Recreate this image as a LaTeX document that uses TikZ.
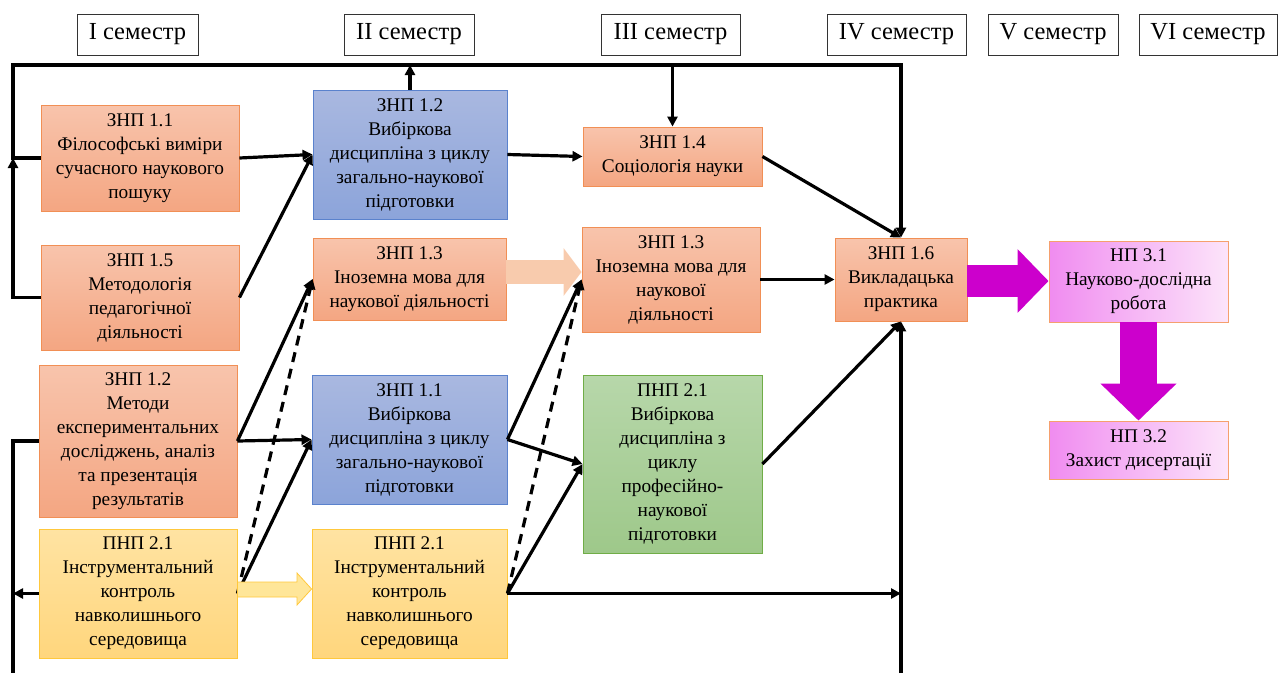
\documentclass[tikz,border=0pt]{standalone}
\usepackage{fontspec}
\setmainfont{Liberation Serif}
\usetikzlibrary{arrows.meta,calc}
\definecolor{orTop}{RGB}{248,196,172}
\definecolor{orBot}{RGB}{244,166,130}
\definecolor{orLine}{RGB}{241,143,85}
\definecolor{blTop}{RGB}{169,184,224}
\definecolor{blBot}{RGB}{140,164,218}
\definecolor{blLine}{RGB}{90,130,205}
\definecolor{grTop}{RGB}{183,215,170}
\definecolor{grBot}{RGB}{158,200,138}
\definecolor{grLine}{RGB}{112,173,71}
\definecolor{yeTop}{RGB}{255,227,162}
\definecolor{yeBot}{RGB}{255,214,125}
\definecolor{yeLine}{RGB}{255,200,60}
\definecolor{pkLeft}{RGB}{240,140,240}
\definecolor{pkRight}{RGB}{252,228,250}
\definecolor{pkLine}{RGB}{245,160,110}
\definecolor{mag}{RGB}{204,0,204}
\definecolor{peach}{RGB}{248,203,173}
\definecolor{yeArrow}{RGB}{255,230,153}
\tikzset{
  box/.style={draw, line width=0.9pt, align=center, inner sep=0pt,
    font=\fontsize{19.3}{24}\selectfont},
  orbox/.style={box, draw=orLine, top color=orTop, bottom color=orBot},
  blbox/.style={box, draw=blLine, top color=blTop, bottom color=blBot},
  grbox/.style={box, draw=grLine, top color=grTop, bottom color=grBot},
  yebox/.style={box, draw=yeLine, top color=yeTop, bottom color=yeBot},
  pkbox/.style={box, draw=pkLine, left color=pkLeft, right color=pkRight},
  sem/.style={draw=black!80, line width=0.8pt, minimum height=41pt, inner sep=0pt,
    font=\fontsize{24.5}{27}\selectfont},
  wire/.style={line width=3.2pt},
  link/.style={wire, -{Triangle[length=10pt,width=10pt]}},
  dlink/.style={link, dash pattern=on 10pt off 7pt}
}
\begin{document}
\begin{tikzpicture}[x=1pt,y=-1pt]
\useasboundingbox (0,0) rectangle (1278,673);
% semesters
\foreach \x/\s/\w in {137.5/I/121, 409/II/130, 670.5/III/139, 896.5/IV/139, 1053/V/130, 1208/VI/138}
  \node[sem, minimum width=\w pt] (sem\s) at (\x,34.5) {\s{} семестр};
% first column
\node[orbox, minimum width=198pt, minimum height=106pt] (phil) at (140,158) {ЗНП 1.1\\Філософські виміри\\сучасного наукового\\пошуку};
\node[orbox, minimum width=198pt, minimum height=105pt] (metod) at (140,297.5) {ЗНП 1.5\\Методологія\\педагогічної\\діяльності};
\node[orbox, minimum width=198pt, minimum height=152pt] (exper) at (138,441) {ЗНП 1.2\\Методи\\експериментальних\\досліджень, аналіз\\та презентація\\результатів};
\node[yebox, minimum width=198pt, minimum height=129pt] (instrA) at (138,593.5) {ПНП 2.1\\Інструментальний\\контроль\\навколишнього\\середовища};
% second column
\node[blbox, minimum width=194pt, minimum height=129pt] (vybA) at (410,154.5) {ЗНП 1.2\\Вибіркова\\дисципліна з циклу\\загально-наукової\\підготовки};
\node[orbox, minimum width=193pt, minimum height=82pt] (movaA) at (409.5,279) {ЗНП 1.3\\Іноземна мова для\\наукової діяльності};
\node[blbox, minimum width=195pt, minimum height=129pt] (vybB) at (409.5,439.5) {ЗНП 1.1\\Вибіркова\\дисципліна з циклу\\загально-наукової\\підготовки};
\node[yebox, minimum width=195pt, minimum height=129pt] (instrB) at (409.5,593.5) {ПНП 2.1\\Інструментальний\\контроль\\навколишнього\\середовища};
% third column
\node[orbox, minimum width=179pt, minimum height=59pt] (socio) at (672.5,156.5) {ЗНП 1.4\\Соціологія науки};
\node[orbox, minimum width=178pt, minimum height=105pt] (movaB) at (671,279.5) {ЗНП 1.3\\Іноземна мова для\\наукової\\діяльності};
\node[grbox, minimum width=179pt, minimum height=178pt] (prof) at (672.5,464) {ПНП 2.1\\Вибіркова\\дисципліна з\\циклу\\професійно-\\наукової\\підготовки};
% practice and research
\node[orbox, minimum width=132pt, minimum height=83pt] (prakt) at (901,279.5) {ЗНП 1.6\\Викладацька\\практика};
\node[pkbox, minimum width=179pt, minimum height=81pt] (ndr) at (1138.5,281.5) {НП 3.1\\Науково-дослідна\\робота};
\node[pkbox, minimum width=179pt, minimum height=58pt] (zahyst) at (1138.5,450) {НП 3.2\\Захист дисертації};
% frame
\coordinate (topL) at (13,65);
\coordinate (botL) at (13,673);
\draw[link] (phil.west) -| (topL) -| (prakt.north);
\draw[link] (metod.west) -| (topL |- phil.west);
\draw[link] (vybA.north) -- (vybA.north |- topL);
\draw[link] (socio.north |- topL) -- (socio.north);
\draw[wire] (exper.west) -| (botL);
\draw[link] (instrA.west) -- (instrA.west -| botL);
\draw[link] (instrB.east) -- (instrB.east -| prakt.south);
\draw[link] (prakt.south |- botL) -- (prakt.south);
% links
\draw[link] (phil.east) -- (vybA.west);
\draw[link] (metod.east) -- (vybA.west);
\draw[link] (vybA.east) -- (socio.west);
\draw[link] (exper.east) -- (movaA.west);
\draw[link] (exper.east) -- (vybB.west);
\draw[link] (instrA.east) -- (vybB.west);
\draw[dlink] (instrA.east) -- (movaA.west);
\draw[link] (vybB.east) -- (movaB.west);
\draw[link] (vybB.east) -- (prof.west);
\draw[link] (instrB.east) -- (prof.west);
\draw[dlink] (instrB.east) -- (movaB.west);
\draw[link] (socio.east) -- (prakt.north);
\draw[link] (movaB.east) -- (prakt.west);
\draw[link] (prof.east) -- (prakt.south);
% block arrows
\coordinate (pA) at (0,272);
\draw[peach, line width=24pt, -{Triangle[length=18pt,width=47pt]}] (movaA.east |- pA) -- (movaB.west |- pA);
\filldraw[fill=yeArrow, draw=yeLine, line width=0.8pt] (instrA.east |- 0,582) -- (297,582) -- (297,573)
  -- (instrB.west |- 0,589) -- (297,605) -- (297,597) -- (instrA.east |- 0,597) -- cycle;
\draw[mag, line width=32pt, -{Triangle[length=31pt,width=62pt]}] (prakt.east |- 0,281) -- (ndr.west |- 0,281);
\draw[mag, line width=37pt, -{Triangle[length=37pt,width=74pt]}] (ndr.south) -- (zahyst.north);
\end{tikzpicture}
\end{document}
